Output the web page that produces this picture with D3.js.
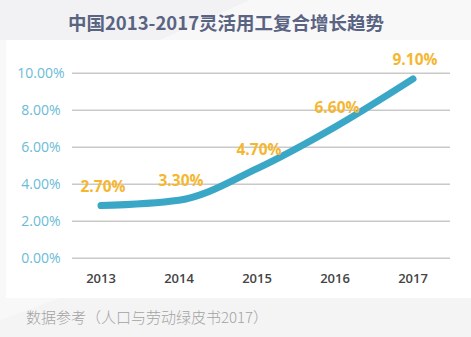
<!DOCTYPE html>
<html><head><meta charset="utf-8">
<script src="https://cdn.jsdelivr.net/npm/d3@7"></script>
<style>html,body{margin:0;padding:0;background:#fff;}svg{display:block;}</style>
</head><body>
<script>
const years = ["2013","2014","2015","2016","2017"];
const lineValues = [2.85, 3.14, 4.85, 7.1, 9.7];
const rateLabels = ["2.70%","3.30%","4.70%","6.60%","9.10%"];
const yTicks = [0, 2, 4, 6, 8, 10];
const title = "中国2013-2017灵活用工复合增长趋势";
const source = "数据参考（人口与劳动绿皮书2017）";

const W = 471, H = 337;
const svg = d3.select("body").append("svg").attr("width", W).attr("height", H);

// background
svg.append("rect").attr("width", W).attr("height", H).attr("fill", "#f8f8f9");
svg.append("path").attr("d", `M0,0 L250,0 L160,40 L0,40 Z`).attr("fill", "#f2f2f4");
svg.append("rect").attr("x", 6).attr("y", 40).attr("width", W - 6).attr("height", 258).attr("fill", "#ffffff");
svg.append("path").attr("d", `M0,337 L0,320 L60,298 L471,298 L471,337 Z`).attr("fill", "#f4f4f5");

const x = d3.scalePoint().domain(years).range([101, 413]);
const y = d3.scaleLinear().domain([0, 10]).range([258.3, 73.3]);

// grid
svg.append("g").selectAll("line").data(yTicks).join("line")
  .attr("x1", 72).attr("x2", 450)
  .attr("y1", d => y(d)).attr("y2", d => y(d))
  .attr("stroke", "#c9c9c9").attr("stroke-width", 1.5);

// y labels
svg.append("g").selectAll("text").data(yTicks).join("text")
  .attr("x", 41).attr("y", d => y(d) + 5)
  .attr("text-anchor", "middle")
  .attr("font-family", "'Open Sans', sans-serif").attr("font-size", 14)
  .attr("fill", "#6bbbd6")
  .text(d => d3.format(".2f")(d) + "%");

// x labels
svg.append("g").selectAll("text").data(years).join("text")
  .attr("x", d => x(d)).attr("y", 283)
  .attr("text-anchor", "middle")
  .attr("font-family", "'Open Sans', sans-serif").attr("font-size", 13).attr("font-weight", 600)
  .attr("fill", "#444")
  .text(d => d);

// line
const line = d3.line().x((d, i) => x(years[i])).y(d => y(d)).curve(d3.curveMonotoneX);
svg.append("path").datum(lineValues).attr("d", line)
  .attr("fill", "none").attr("stroke", "#3ba7c6").attr("stroke-width", 7)
  .attr("stroke-linecap", "round").attr("stroke-linejoin", "round");

// data labels
svg.append("g").selectAll("text").data(rateLabels).join("text")
  .attr("x", (d, i) => x(years[i]) + 2).attr("y", (d, i) => y(lineValues[i]) - 14)
  .attr("text-anchor", "middle")
  .attr("font-family", "'Open Sans', sans-serif").attr("font-size", 15.5).attr("font-weight", 700)
  .attr("fill", "#f5b731")
  .text(d => d);

// title
svg.append("text").attr("x", 226).attr("y", 30).attr("text-anchor", "middle")
  .attr("font-family", "'Noto Sans CJK SC', sans-serif").attr("font-size", 18.5).attr("font-weight", 700)
  .attr("fill", "#5a6482").text(title);

// source
svg.append("text").attr("x", 26).attr("y", 323)
  .attr("font-family", "'Noto Sans CJK SC', sans-serif").attr("font-size", 15).attr("font-weight", 300)
  .attr("fill", "#a3a3a3").text(source);
</script>
</body></html>
